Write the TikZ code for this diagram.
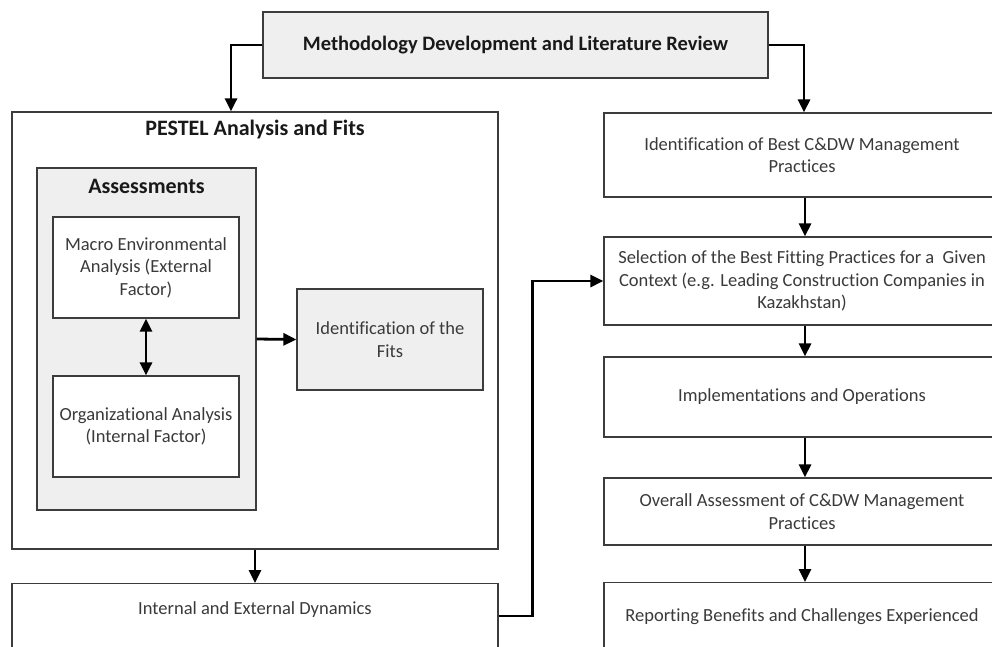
\documentclass[tikz,border=0pt]{standalone}
\usepackage{fontspec}
\setmainfont{Carlito}[Ligatures=NoCommon]
\usetikzlibrary{arrows.meta}
\definecolor{boxgray}{HTML}{EFEFEF}
\definecolor{edgegray}{HTML}{3C3C3C}
\definecolor{textgray}{HTML}{3A3A3A}
\tikzstyle{box} = [draw=edgegray, line width=1.2pt, rectangle, inner sep=0pt]
\tikzstyle{shaded} = [box, fill=boxgray]
\tikzstyle{txt} = [text=textgray, align=center, font=\fontsize{18.5}{22.5}\selectfont]
\tikzstyle{title} = [text=black!90, font=\bfseries\fontsize{22}{26}\selectfont]
\tikzstyle{arrow} = [-{Triangle[length=13pt,width=12pt]}, line width=2.8pt]
\tikzstyle{twoway} = [arrow, {Triangle[length=13pt,width=12pt]}-{Triangle[length=13pt,width=12pt]}]

\begin{document}
\begin{tikzpicture}[x=1pt, y=-1pt]
\useasboundingbox[fill=white] (0,0) rectangle (992,646);
\clip (0,0) rectangle (992,646);
% top box
\node[shaded, minimum width=505pt, minimum height=66pt, text=black!90,
	font=\bfseries\fontsize{20.5}{24}\selectfont] (method) at (515.5,45)
	{Methodology Development and Literature Review};
% left column
\node[box, minimum width=486pt, minimum height=437pt] (pestel) at (255,330.5) {};
\node[title] (pesteltitle) at (255,130) {PESTEL Analysis and Fits};
\node[shaded, minimum width=219pt, minimum height=342pt] (assess) at (146.5,339) {};
\node[title] (assesstitle) at (146.5,186) {Assessments};
\node[box, fill=white, txt, minimum width=186pt, minimum height=101pt] (macro) at (146,267.5)
	{Macro Environmental\\Analysis (External\\Factor)};
\node[box, fill=white, txt, minimum width=186pt, minimum height=101pt] (org) at (146,426.5)
	{Organizational Analysis\\(Internal Factor)};
\node[shaded, txt, minimum width=186pt, minimum height=101pt] (fits) at (390,339.5)
	{Identification of the\\Fits};
\node[box, minimum width=486pt, minimum height=120pt, anchor=north] (internal) at (255,583) {};
\node[txt] (internaltxt) at (255,610) {Internal and External Dynamics};
% right column
\node[box, txt, minimum width=396pt, minimum height=84pt] (bestpractice) at (802,155)
	{Identification of Best C\&DW Management\\Practices};
\node[box, txt, minimum width=396pt, minimum height=88pt] (select) at (802,281)
	{Selection of the Best Fitting Practices for a\ \ Given\\Context (e.g. Leading Construction Companies in\\Kazakhstan)};
\node[box, txt, minimum width=396pt, minimum height=80pt] (impl) at (802,397)
	{Implementations and Operations};
\node[box, txt, minimum width=396pt, minimum height=67pt] (overall) at (802,511.5)
	{Overall Assessment of C\&DW Management\\Practices};
\node[box, minimum width=396pt, minimum height=120pt, anchor=north] (report) at (802,582) {};
\node[txt] (reporttxt) at (802,617) {Reporting Benefits and Challenges Experienced};
% connectors
\draw[arrow] (method.west) -| ([xshift=-24pt]pestel.north);
\draw[arrow] (method.east) -| ([xshift=2pt]bestpractice.north);
\draw[arrow] (pestel.south) -- (internal.north);
\draw[arrow] (assess.east) -- (fits.west);
\draw[twoway] (macro.south) -- (org.north);
\draw[arrow] ([yshift=-33pt]internal.north east) -- ++(34,0) |- (select.west);
\foreach \a/\b in {bestpractice/select, select/impl, impl/overall, overall/report}
	\draw[arrow] ([xshift=3pt]\a.south) -- ([xshift=3pt]\b.north);
\end{tikzpicture}
\end{document}
